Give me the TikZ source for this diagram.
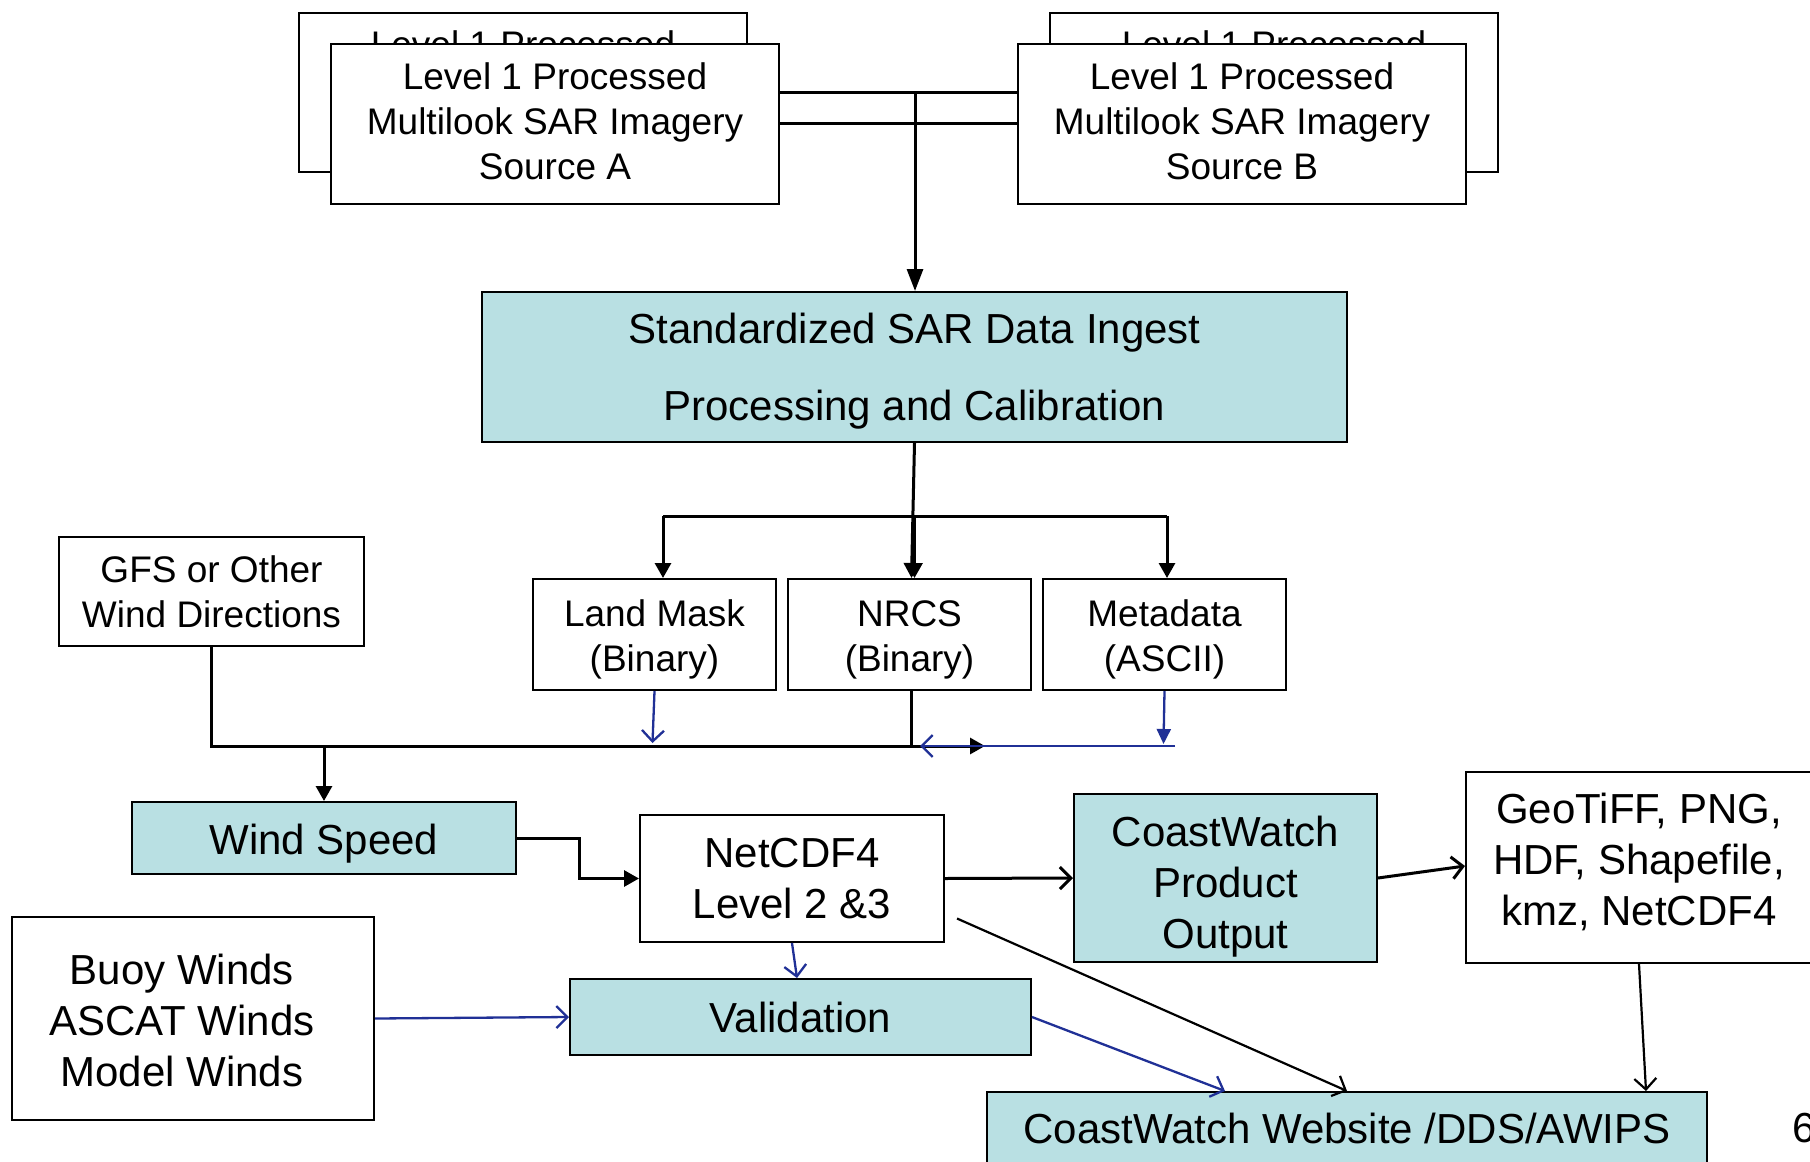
\documentclass[tikz,border=0pt]{standalone}
\usepackage{fontspec}
\setmainfont{Liberation Sans}
\usetikzlibrary{arrows.meta,calc}
\definecolor{boxfill}{RGB}{185,224,227}
\definecolor{linkblue}{RGB}{32,48,150}
% invisible struts to balance text inside boxes
\newcommand\padtop[1]{\rule{0pt}{#1}}
\newcommand\padbot[1]{\rule[-#1]{0pt}{#1}}

\begin{document}
\begin{tikzpicture}[x=1pt,y=-1pt,
  box/.style={draw=black, line width=2pt, fill=white, inner sep=0pt, align=center, text=black},
  proc/.style={box, fill=boxfill},
  small/.style={font=\fontsize{37}{45}\selectfont},
  big/.style={font=\fontsize{42}{51}\selectfont},
  wire/.style={line width=3pt, draw=black},
  thinwire/.style={line width=2.2pt, draw=black},
  bwire/.style={line width=2.3pt, draw=linkblue},
  tri/.style={-{Triangle[length=15pt,width=16pt]}},
  longtri/.style={-{Triangle[length=22pt,width=16pt]}},
  barb/.style={-{Straight Barb[length=11pt,width=22pt]}},
]
% page
\fill[white] (0,0) rectangle (1810,1162);
\useasboundingbox (0,0) rectangle (1810,1162);

% stacked source boxes
\node[box,small,minimum width=448pt,minimum height=159pt] (backA) at (523,92.5)
  {Level 1 Processed\\Multilook SAR Imagery\\Source A\padbot{6pt}};
\node[box,small,minimum width=448pt,minimum height=160pt] (srcA) at (555,124)
  {Level 1 Processed\\Multilook SAR Imagery\\Source A\padbot{6pt}};
\node[box,small,minimum width=448pt,minimum height=159pt] (backB) at (1274,92.5)
  {Level 1 Processed\\Multilook SAR Imagery\\Source B\padbot{6pt}};
\node[box,small,minimum width=448pt,minimum height=160pt] (srcB) at (1242,124)
  {Level 1 Processed\\Multilook SAR Imagery\\Source B\padbot{6pt}};

% ingest
\node[proc,big,minimum width=865pt,minimum height=150pt] (std) at (914.5,367)
  {\padtop{38pt}Standardized SAR Data Ingest\\[26pt]Processing and Calibration};

% intermediate products
\node[box,small,minimum width=305pt,minimum height=109pt] (gfs) at (211.5,591.5)
  {GFS or Other\\Wind Directions};
\node[box,small,minimum width=243pt,minimum height=111pt] (land) at (654.5,634.5)
  {\padtop{36pt}Land Mask\\(Binary)};
\node[box,small,minimum width=243pt,minimum height=111pt] (nrcs) at (909.5,634.5)
  {\padtop{36pt}NRCS\\(Binary)};
\node[box,small,minimum width=243pt,minimum height=111pt] (meta) at (1164.5,634.5)
  {\padtop{36pt}Metadata\\(ASCII)};

% outputs
\node[proc,big,text height=33pt,text depth=0pt,minimum width=384pt,minimum height=72pt] (wind) at (324,838) {Wind Speed};
\node[box,big,minimum width=304pt,minimum height=127pt] (ncdf) at (792,878.5)
  {NetCDF4\\Level 2 \&3};
\node[proc,big,minimum width=303pt,minimum height=168pt] (prod) at (1225.5,878)
  {\padtop{47pt}CoastWatch\\Product\\Output};
\node[box,big,minimum width=346pt,minimum height=191pt] (geo) at (1639,867.5)
  {GeoTiFF, PNG,\\HDF, Shapefile,\\kmz, NetCDF4\padbot{16pt}};
\node[proc,big,minimum width=461pt,minimum height=76pt] (valid) at (800.5,1017) {Validation};
\node[box,big,minimum width=362pt,minimum height=203pt] (buoy) at (193,1018.5)
  {\begin{tabular}{@{}c@{}}\padtop{50pt}Buoy Winds\\ASCAT Winds\\Model Winds\end{tabular}\hspace*{22pt}};
\node[proc,big,minimum width=720pt,minimum height=72pt] (web) at (1347,1128)
  {CoastWatch Website /DDS/AWIPS};
\node[big,anchor=west,inner sep=0pt] (pg) at (1792,1128) {6};

% sources into ingest
\coordinate (ja) at (915,92);
\coordinate (jb) at (915,123);
\draw[wire] (srcA.east |- ja) -- (srcB.west |- ja);
\draw[wire] (srcA.east |- jb) -- (srcB.west |- jb);
\draw[wire,longtri] (ja) -- (ja |- std.north);

% ingest fan-out
\coordinate (bl) at (663,516);
\coordinate (br) at (1167,516);
\draw[wire,tri] (std.south) -- ($(nrcs.north)+(2,0)$);
\draw[wire] (bl) -- (br);
\draw[wire,tri] (bl) -- (bl |- land.north);
\draw[wire,tri] (br) -- (br |- meta.north);
\draw[wire,tri] (std.south |- bl) -- (std.south |- nrcs.north);

% collection bus
\coordinate (bus) at (911,746);
\coordinate (bend) at (1175,746);
\draw[wire] (gfs.south) |- (bus);
\draw[wire] (bus) -- (bus |- nrcs.south);
\draw[wire,tri] (wind.north |- bus) -- (wind.north);
\draw[wire,tri] (bus) -- ++(74,0);
\draw[bwire,barb] (bend) -- ($(bus)+(9,0)$);
\draw[bwire,barb] (land.south) -- ++(-2,52);
\draw[bwire,-{Triangle[length=15pt,width=14pt]}] (meta.south) -- ++(-1,53);

% product flow
\draw[wire,tri] (wind.east) -- ++(62,0) |- (ncdf.west);
\draw[wire,barb] (ncdf.east) -- (prod.west);
\draw[wire,barb] (prod.east) -- ($(geo.west)+(0,-1.5)$);
\draw[thinwire,barb] (geo.south) -- ($(web.north)+(299,0)$);
\draw[thinwire,barb] ($(ncdf.east)+(12,40)$) -- (web.north);
\draw[bwire,barb] (ncdf.south) -- ($(valid.north)+(-3.5,0)$);
\draw[bwire,barb] (valid.east) -- ($(web.north)+(-122,0)$);
\draw[bwire,barb] (buoy.east) -- (valid.west);
\end{tikzpicture}
\end{document}
